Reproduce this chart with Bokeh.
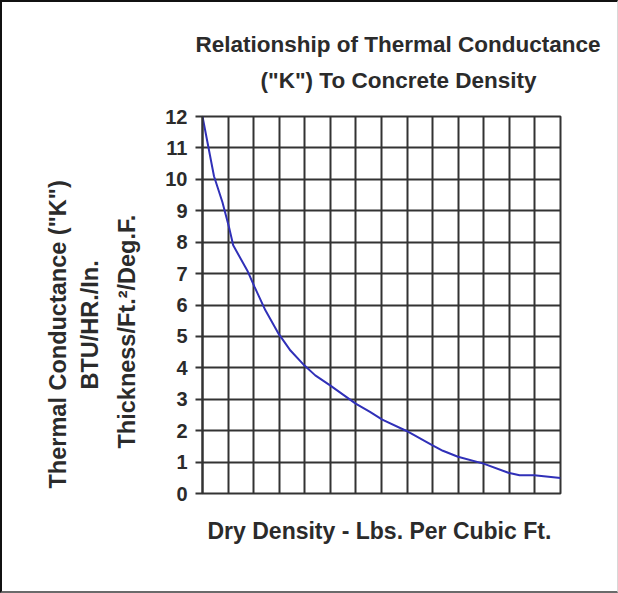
from bokeh.plotting import figure
from bokeh.models import Range1d, FixedTicker, Title
from bokeh.embed import file_html
from bokeh.resources import INLINE

# Data (x in grid steps along the density axis, y = K value)
density_step = [0, 0.45, 0.78, 1.04, 1.2, 1.75, 2.04, 2.46, 2.98, 3.44, 3.98, 4.41,
                4.99, 5.99, 6.55, 7.03, 7.98, 8.98, 9.4, 9.99, 10.99, 11.96, 12.4, 12.97, 14]
k_value = [12.0, 10.1, 9.27, 8.47, 7.9, 7.1, 6.57, 5.83, 5.08, 4.55, 4.08, 3.76,
           3.44, 2.86, 2.6, 2.35, 1.99, 1.54, 1.36, 1.17, 0.95, 0.66, 0.58, 0.58, 0.49]
x_grid_ticks = list(range(0, 15))
y_ticks = list(range(0, 13))

title_lines = ["Relationship of Thermal Conductance", "(\"K\") To Concrete Density"]
x_label = "Dry Density - Lbs. Per Cubic Ft."
y_label_lines = ["Thermal Conductance (\"K\")", "BTU/HR./In.", "Thickness/Ft.\u00b2/Deg.F."]

FONT = "Liberation Sans"
TXT = "#2b2b2b"
GRID = "#333333"

p = figure(width=618, height=593, output_backend="svg", toolbar_location=None,
           x_range=Range1d(0, 14), y_range=Range1d(0, 12),
           min_border_left=200, min_border_right=60, min_border_top=114,
           min_border_bottom=102)
p.styles = {"border-top": "2px solid #111111", "border-left": "2px solid #111111",
            "border-bottom": "2px solid #6a6a6a", "border-right": "1px solid #d8d8d8"}
p.outline_line_color = GRID
p.outline_line_width = 2

p.xaxis.visible = False
p.xgrid.ticker = FixedTicker(ticks=x_grid_ticks)

p.yaxis.ticker = FixedTicker(ticks=y_ticks)
p.yaxis.major_tick_out = 7
p.yaxis.major_tick_in = 0
p.yaxis.major_tick_line_color = GRID
p.yaxis.major_tick_line_width = 2
p.yaxis.minor_tick_line_color = None
p.yaxis.axis_line_color = GRID
p.yaxis.axis_line_width = 2
p.yaxis.major_label_text_font = FONT
p.yaxis.major_label_text_font_style = "bold"
p.yaxis.major_label_text_font_size = "20px"
p.yaxis.major_label_text_color = TXT
p.yaxis.major_label_standoff = 8

for g in (p.xgrid, p.ygrid):
    g.grid_line_color = GRID
    g.grid_line_width = 2
    g.grid_line_alpha = 1.0

p.line(density_step, k_value, line_color="#3030b8", line_width=2)


def mk_title(text, standoff, offset, size="23px"):
    return Title(text=text, align="left", offset=offset, standoff=standoff,
                 text_font=FONT, text_font_style="bold", text_font_size=size,
                 text_color=TXT)


# Title: closest-to-frame line added first
p.add_layout(mk_title(title_lines[1], 48, 58, "22.5px"), "above")
p.add_layout(mk_title(title_lines[0], -31, -7, "22.5px"), "above")

# X label
p.add_layout(mk_title(x_label, 45, 5), "below")

# Y label: three lines, closest to axis first
p.add_layout(mk_title(y_label_lines[2], 45, 45, "23.5px"), "left")
p.add_layout(mk_title(y_label_lines[1], -27, 104, "23.5px"), "left")
p.add_layout(mk_title(y_label_lines[0], 36, 5, "23.5px"), "left")

open("out.html", "w").write(file_html(p, INLINE))
